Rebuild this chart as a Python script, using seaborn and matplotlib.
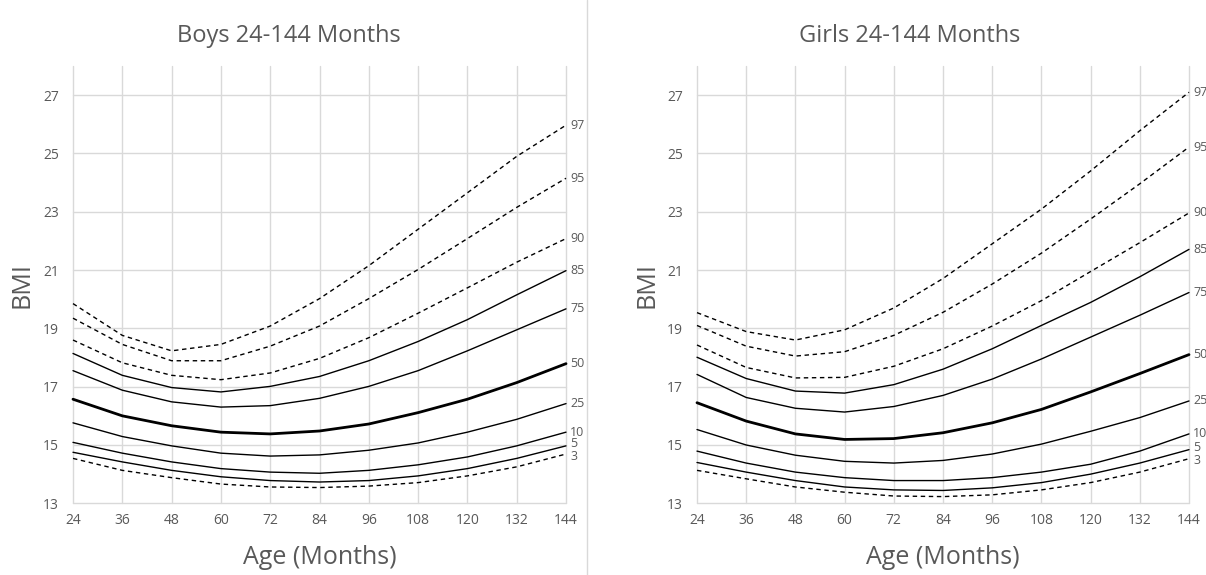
import numpy as np
import pandas as pd
import matplotlib
matplotlib.use("Agg")
import matplotlib.pyplot as plt
from matplotlib.lines import Line2D
import seaborn as sns

months = [24, 36, 48, 60, 72, 84, 96, 108, 120, 132, 144]
percentiles = ["97", "95", "90", "85", "75", "50", "25", "10", "5", "3"]

boys_97 = [19.85, 18.76, 18.23, 18.45, 19.08, 20.02, 21.15, 22.40, 23.65, 24.90, 25.97]
boys_95 = [19.35, 18.45, 17.89, 17.89, 18.39, 19.08, 20.02, 21.02, 22.08, 23.15, 24.15]
boys_90 = [18.60, 17.82, 17.39, 17.24, 17.47, 17.97, 18.68, 19.52, 20.39, 21.27, 22.08]
boys_85 = [18.14, 17.39, 16.97, 16.82, 17.01, 17.35, 17.89, 18.55, 19.30, 20.15, 20.98]
boys_75 = [17.55, 16.88, 16.48, 16.30, 16.35, 16.60, 17.01, 17.55, 18.23, 18.95, 19.67]
boys_50 = [16.57, 16.00, 15.66, 15.44, 15.38, 15.48, 15.72, 16.11, 16.57, 17.14, 17.79]
boys_25 = [15.76, 15.29, 14.97, 14.72, 14.62, 14.66, 14.82, 15.07, 15.44, 15.88, 16.42]
boys_10 = [15.09, 14.72, 14.42, 14.19, 14.07, 14.03, 14.13, 14.32, 14.59, 14.97, 15.44]
boys_5 = [14.75, 14.42, 14.13, 13.91, 13.78, 13.73, 13.78, 13.94, 14.19, 14.54, 14.97]
boys_3 = [14.54, 14.13, 13.88, 13.66, 13.56, 13.54, 13.59, 13.71, 13.94, 14.25, 14.69]

girls_97 = [19.54, 18.89, 18.60, 18.95, 19.70, 20.71, 21.90, 23.09, 24.40, 25.78, 27.10]
girls_95 = [19.10, 18.39, 18.05, 18.20, 18.76, 19.55, 20.52, 21.58, 22.75, 23.96, 25.22]
girls_90 = [18.43, 17.66, 17.30, 17.32, 17.70, 18.30, 19.08, 19.95, 20.95, 21.94, 22.96]
girls_85 = [18.01, 17.28, 16.85, 16.78, 17.07, 17.60, 18.30, 19.10, 19.89, 20.77, 21.71]
girls_75 = [17.42, 16.63, 16.26, 16.13, 16.32, 16.70, 17.26, 17.95, 18.70, 19.45, 20.23]
girls_50 = [16.45, 15.82, 15.38, 15.19, 15.22, 15.42, 15.76, 16.22, 16.82, 17.45, 18.10]
girls_25 = [15.53, 15.00, 14.65, 14.44, 14.38, 14.47, 14.69, 15.03, 15.47, 15.94, 16.51]
girls_10 = [14.79, 14.38, 14.07, 13.88, 13.78, 13.78, 13.88, 14.07, 14.34, 14.79, 15.38]
girls_5 = [14.40, 14.07, 13.78, 13.56, 13.46, 13.44, 13.53, 13.71, 14.00, 14.38, 14.84]
girls_3 = [14.13, 13.84, 13.56, 13.38, 13.25, 13.23, 13.29, 13.46, 13.71, 14.07, 14.53]

boys = [boys_97, boys_95, boys_90, boys_85, boys_75, boys_50, boys_25, boys_10, boys_5, boys_3]
girls = [girls_97, girls_95, girls_90, girls_85, girls_75, girls_50, girls_25, girls_10, girls_5, girls_3]

titles = ["Boys 24-144 Months", "Girls 24-144 Months"]
x_ticks = [24, 36, 48, 60, 72, 84, 96, 108, 120, 132, 144]
y_ticks = [13, 15, 17, 19, 21, 23, 25, 27]

dashed = {"97", "95", "90", "3"}
label_nudge = {"5": 0.07, "3": -0.07}

sns.set_theme(style="white")
FONT = ["Open Sans", "DejaVu Sans"]
plt.rcParams["font.family"] = FONT
TXT = "#595959"
GRID = "#d9d9d9"

fig = plt.figure(figsize=(12.06, 5.75), dpi=100)
W, H = 1206, 575
ax_specs = [(73, 566), (697, 1189)]
top_px, bot_px = 66, 503.3
title_x = [289, 910]
ylab_x = [22.5, 647]

for i, (data, (l, r)) in enumerate(zip([boys, girls], ax_specs)):
    ax = fig.add_axes([l / W, 1 - bot_px / H, (r - l) / W, (bot_px - top_px) / H])
    ax.set_xlim(24, 144)
    ax.set_ylim(13, 28)
    ax.set_xticks(x_ticks)
    ax.set_yticks(y_ticks)
    ax.grid(True, color=GRID, lw=1.0)
    ax.set_axisbelow(True)
    for s in ax.spines.values():
        s.set_visible(False)
    ax.tick_params(axis="both", length=0, labelsize=10, labelcolor=TXT)
    ax.tick_params(axis="x", pad=7)
    ax.tick_params(axis="y", pad=10)
    for gl in ax.get_xgridlines() + ax.get_ygridlines():
        gl.set_clip_on(False)

    for p, vals in zip(percentiles, data):
        df = pd.DataFrame({"Age": months, "BMI": vals})
        if p == "50":
            lw, ls = 2.0, "-"
        elif p in dashed:
            lw, ls = 1.0, (0, (3.2, 2.6))
        else:
            lw, ls = 1.0, "-"
        sns.lineplot(data=df, x="Age", y="BMI", ax=ax, color="black",
                     linewidth=lw, linestyle=ls, clip_on=False)
        ax.annotate(p, xy=(144, vals[-1] + label_nudge.get(p, 0)), xytext=(3, 0),
                    textcoords="offset points", ha="left", va="center",
                    fontsize=9, color=TXT, annotation_clip=False)
    ax.set_xlabel("")
    ax.set_ylabel("")

    cx = (l + r) / 2
    fig.text(title_x[i] / W, 1 - 41.7 / H, titles[i], ha="center", va="baseline",
             fontsize=17, color=TXT)
    fig.text(cx / W, 1 - 564.3 / H, "Age (Months)", ha="center", va="baseline",
             fontsize=18, color=TXT)
    fig.text(ylab_x[i] / W, 1 - 285 / H, "BMI", ha="center", va="center",
             rotation=90, fontsize=18, color=TXT)

fig.add_artist(Line2D([587 / W, 587 / W], [0, 1], transform=fig.transFigure,
                      color=GRID, lw=1.0))

fig.savefig("out.png", dpi=100)
